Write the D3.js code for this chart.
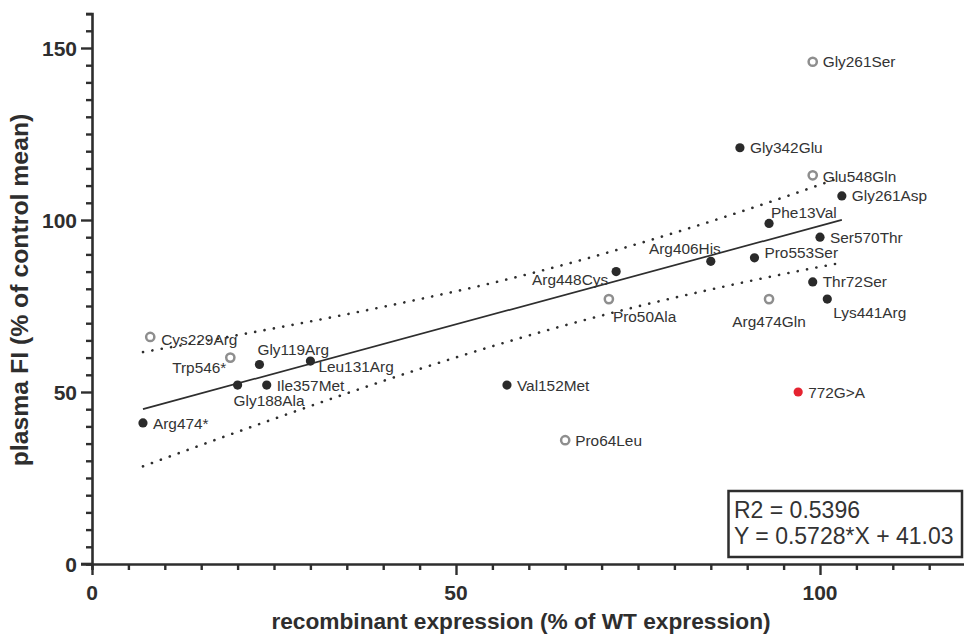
<!DOCTYPE html>
<html>
<head>
<meta charset="utf-8">
<script src="https://cdn.jsdelivr.net/npm/d3@7"></script>
<style>
  html, body { margin: 0; padding: 0; background: #fff; }
  svg { display: block; font-family: "Liberation Sans", Arial, Helvetica, sans-serif; }
</style>
</head>
<body>
<svg id="chart" width="964" height="638"></svg>
<script>
// ---- data ----
const names = ["Arg474*","Cys229Arg","Trp546*","Gly188Ala","Gly119Arg","Ile357Met","Leu131Arg",
  "Val152Met","Pro64Leu","Pro50Ala","Arg448Cys","Arg406His","Gly342Glu","Pro553Ser","Phe13Val",
  "Arg474Gln","772G>A","Thr72Ser","Gly261Ser","Glu548Gln","Ser570Thr","Lys441Arg","Gly261Asp"];
const expression = [7, 8, 19, 20, 23, 24, 30, 57, 65, 71, 72, 85, 89, 91, 93, 93, 97, 99, 99, 99, 100, 101, 103];
const plasmaFI   = [41, 66, 60, 52, 58, 52, 59, 52, 36, 77, 85, 88, 121, 89, 99, 77, 50, 82, 146, 113, 95, 77, 107];
const markerType = ["filled","open","open","filled","filled","filled","filled","filled","open","open","filled",
  "filled","filled","filled","filled","open","red","filled","open","open","filled","filled","filled"];

const slope = 0.5728, intercept = 41.03, r2 = 0.5396;
const fitRange = [7, 103];
const bandX     = [7, 15, 25, 35, 45, 55, 65, 75, 85, 95, 103];
const bandUpper = [61.6, 64.6, 68.5, 72.6, 77.0, 81.7, 87.1, 93.1, 99.6, 106.6, 112.5];
const bandLower = [28.4, 34.6, 42.2, 49.6, 56.7, 63.3, 69.4, 74.9, 79.8, 84.3, 87.6];

const xMajor = [0, 50, 100];
const yMajor = [0, 50, 100, 150];
const xTitle = "recombinant expression (% of WT expression)";
const yTitle = "plasma FI (% of control mean)";

// ---- label placement (layout only) ----
const labelPos = {
  "Arg474*":   ["start", 10, 0],
  "Cys229Arg": ["start", 11, 2],
  "Trp546*":   ["end", -4, 10],
  "Gly119Arg": ["start", -2, -15],
  "Leu131Arg": ["start", 8, 5],
  "Gly188Ala": ["start", -4, 15],
  "Ile357Met": ["start", 10, 0],
  "Val152Met": ["start", 10, 0],
  "Pro64Leu":  ["start", 10, 0],
  "Arg448Cys": ["end", -8, 8],
  "Pro50Ala":  ["start", 4, 17],
  "Arg406His": ["end", 10, -13],
  "Pro553Ser": ["start", 10, -5],
  "Arg474Gln": ["middle", 0, 22],
  "Gly261Ser": ["start", 10, 0],
  "Gly342Glu": ["start", 10, 0],
  "Glu548Gln": ["start", 10, 1],
  "Gly261Asp": ["start", 10, 0],
  "Phe13Val":  ["start", 2, -11],
  "Ser570Thr": ["start", 10, 0],
  "Thr72Ser":  ["start", 10, 0],
  "Lys441Arg": ["start", 6, 13],
  "772G>A":    ["start", 10, 0]
};

const svg = d3.select("#chart");
const ink = "#2e2e2e";
const x = d3.scaleLinear().domain([0, 120]).range([92, 965.6]);
const y = d3.scaleLinear().domain([0, 160]).range([564, 13.6]);

// confidence band (dotted)
const bandLine = d3.line().x(d => x(d[0])).y(d => y(d[1])).curve(d3.curveMonotoneX);
[bandUpper, bandLower].forEach(arr => {
  svg.append("path")
    .attr("d", bandLine(bandX.map((v, i) => [v, arr[i]])))
    .attr("fill", "none").attr("stroke", ink).attr("stroke-width", 2.6)
    .attr("stroke-linecap", "round").attr("stroke-dasharray", "0.1 9.4");
});

// regression line
svg.append("line")
  .attr("x1", x(fitRange[0])).attr("y1", y(slope * fitRange[0] + intercept))
  .attr("x2", x(fitRange[1])).attr("y2", y(slope * fitRange[1] + intercept))
  .attr("stroke", ink).attr("stroke-width", 1.7);

// axes
const xAxis = d3.axisBottom(x).tickValues(d3.range(0, 121, 5)).tickFormat("").tickSizeOuter(0)
  .tickSize(6);
const yAxis = d3.axisLeft(y).tickValues(d3.range(0, 161, 5)).tickFormat("").tickSizeOuter(0)
  .tickSize(6);
const gx = svg.append("g").attr("transform", "translate(0,564)").call(xAxis);
const gy = svg.append("g").attr("transform", "translate(92,0)").call(yAxis);
[gx, gy].forEach(g => {
  g.select(".domain").attr("stroke", ink).attr("stroke-width", 2.6);
  g.selectAll(".tick line").attr("stroke", ink).attr("stroke-width", 2.4);
});
gx.selectAll(".tick line").filter(d => d % 50 === 0).attr("y2", 11);
gy.selectAll(".tick line").filter(d => d % 50 === 0).attr("x2", -11);
svg.append("line").attr("x1", 81).attr("x2", 93).attr("y1", 564).attr("y2", 564)
  .attr("stroke", ink).attr("stroke-width", 2.6);

// tick labels
svg.append("g").selectAll("text").data(xMajor).join("text")
  .attr("x", d => x(d)).attr("y", 600)
  .attr("text-anchor", "middle").attr("font-weight", "bold").attr("font-size", 21)
  .attr("fill", ink).text(d => d);
svg.append("g").selectAll("text").data(yMajor).join("text")
  .attr("x", 77).attr("y", d => y(d)).attr("dy", "0.36em")
  .attr("text-anchor", "end").attr("font-weight", "bold").attr("font-size", 21)
  .attr("fill", ink).text(d => d);

// axis titles
svg.append("text").attr("x", 521).attr("y", 629).attr("text-anchor", "middle")
  .attr("font-weight", "bold").attr("font-size", 22.7).attr("fill", ink).text(xTitle);
svg.append("text").attr("transform", "translate(28,290) rotate(-90)").attr("text-anchor", "middle")
  .attr("font-weight", "bold").attr("font-size", 24.8).attr("fill", ink).text(yTitle);

// points
const pts = names.map((n, i) => ({ name: n, x: expression[i], y: plasmaFI[i], type: markerType[i] }));
svg.append("g").selectAll("circle").data(pts).join("circle")
  .attr("cx", d => x(d.x)).attr("cy", d => y(d.y))
  .attr("r", d => d.type === "open" ? 4.1 : 4.6)
  .attr("fill", d => d.type === "open" ? "#fff" : d.type === "red" ? "#e52330" : "#2a2a2a")
  .attr("stroke", d => d.type === "open" ? "#8e8e8e" : "none")
  .attr("stroke-width", 2.5);

// point labels
svg.append("g").selectAll("text").data(pts).join("text")
  .attr("x", d => x(d.x) + labelPos[d.name][1])
  .attr("y", d => y(d.y) + labelPos[d.name][2])
  .attr("dy", "0.36em")
  .attr("text-anchor", d => labelPos[d.name][0])
  .attr("font-size", 15.4).attr("fill", "#333")
  .text(d => d.name);

// fit annotation box
svg.append("rect").attr("x", 728.5).attr("y", 491).attr("width", 233.5).attr("height", 66)
  .attr("fill", "#fff").attr("stroke", ink).attr("stroke-width", 2.5);
svg.append("text").attr("x", 734).attr("y", 518).attr("font-size", 23).attr("fill", "#333")
  .text("R2 = " + r2.toFixed(4));
svg.append("text").attr("x", 734).attr("y", 544).attr("font-size", 23).attr("fill", "#333")
  .text("Y = " + slope.toFixed(4) + "*X + " + intercept.toFixed(2));
</script>
</body>
</html>
